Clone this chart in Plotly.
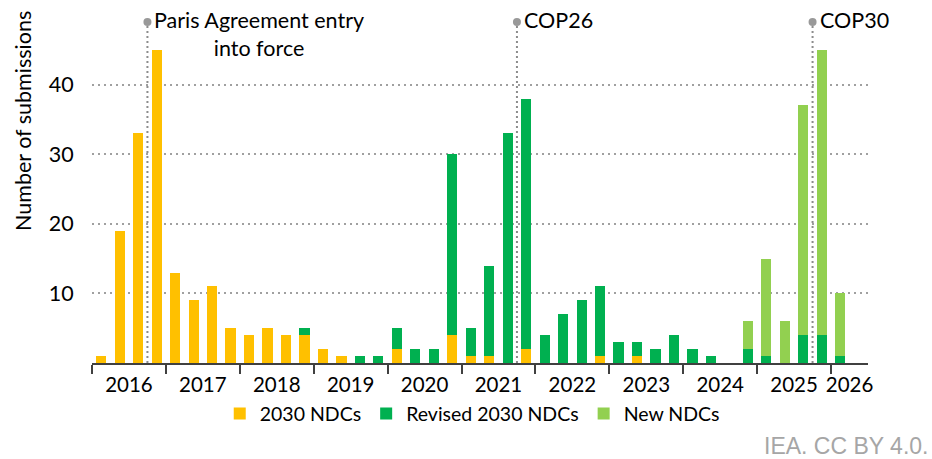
import plotly.graph_objects as go

years = [str(y) for y in range(2016, 2027)]
quarters = ["Q1", "Q2", "Q3", "Q4"]
periods = [f"{y} {q}" for y in years for q in quarters][:42]  # up to 2026 Q2

ndc_2030 = [1, 19, 33, 45,
            13, 9, 11, 5,
            4, 5, 4, 4,
            2, 1, 0, 0,
            2, 0, 0, 4,
            1, 1, 0, 2,
            0, 0, 0, 1,
            0, 1, 0, 0,
            0, 0, 0, 0,
            0, 0, 0, 0,
            0, 0]
revised_2030 = [0, 0, 0, 0,
                0, 0, 0, 0,
                0, 0, 0, 1,
                0, 0, 1, 1,
                3, 2, 2, 26,
                4, 13, 33, 36,
                4, 7, 9, 10,
                3, 2, 2, 4,
                2, 1, 0, 2,
                1, 0, 4, 4,
                1, 0]
new_ndcs = [0, 0, 0, 0,
            0, 0, 0, 0,
            0, 0, 0, 0,
            0, 0, 0, 0,
            0, 0, 0, 0,
            0, 0, 0, 0,
            0, 0, 0, 0,
            0, 0, 0, 0,
            0, 0, 0, 4,
            14, 6, 33, 41,
            9, 0]

# events: label, first period after the event line
event_labels = ["Paris Agreement entry<br>into force", "COP26", "COP30"]
event_after = ["2016 Q4", "2021 Q4", "2025 Q4"]
event_top = 49

series_names = ["2030 NDCs", "Revised 2030 NDCs", "New NDCs"]
colors = ["#FFC000", "#00B050", "#92D050"]
y_title = "Number of submissions"
source = "IEA. CC BY 4.0."

FONT = "Lato, 'Open Sans', sans-serif"
FS = 21.5
xs = list(range(len(periods)))

fig = go.Figure()
for name, vals, col in zip(series_names, [ndc_2030, revised_2030, new_ndcs], colors):
    fig.add_trace(go.Bar(x=xs, y=vals, name=name, marker=dict(color=col, line=dict(width=0)),
                         hovertext=periods))

# event lines
for lab, after in zip(event_labels, event_after):
    ex = periods.index(after) - 0.5
    fig.add_trace(go.Scatter(x=[ex, ex], y=[0, event_top], mode="lines",
                             line=dict(color="#8C8C8C", width=2, dash="2px,3px"),
                             showlegend=False, hoverinfo="skip"))
    fig.add_trace(go.Scatter(x=[ex], y=[event_top], mode="markers",
                             marker=dict(color="#999999", size=8),
                             showlegend=False, hoverinfo="skip"))
    fig.add_annotation(x=ex, y=event_top, xref="x", yref="y", text=lab, showarrow=False,
                       xanchor="left", yanchor="top", align="center", xshift=5, yshift=17,
                       font=dict(family=FONT, size=FS, color="#000000"))

# invisible trace on xaxis2 to carry year labels
year_centers = [4 * i + 1.5 for i in range(len(years) - 1)] + [40.5]
fig.add_trace(go.Scatter(x=year_centers, y=[0] * len(years), xaxis="x2", mode="markers",
                         marker=dict(opacity=0), showlegend=False, hoverinfo="skip"))

year_bounds = [4 * i - 0.5 for i in range(len(years))]

fig.update_layout(
    width=932, height=459,
    margin=dict(l=92, r=64, t=15, b=96),
    barmode="stack", bargap=0.45,
    plot_bgcolor="white", paper_bgcolor="white",
    font=dict(family=FONT, size=FS, color="#000000"),
    xaxis=dict(range=[-0.5, 41.5], tickmode="array", tickvals=year_bounds,
               ticktext=[""] * len(year_bounds), ticks="outside", ticklen=9, tickwidth=1.5,
               tickcolor="#404040", showline=True, linecolor="#404040", linewidth=1.5,
               showgrid=False, zeroline=False),
    xaxis2=dict(range=[-0.5, 41.5], overlaying="x", anchor="y", side="bottom",
                tickmode="array", tickvals=year_centers, ticktext=years,
                ticks="outside", ticklen=3, tickcolor="rgba(0,0,0,0)",
                showline=False, showgrid=False, zeroline=False,
                tickfont=dict(family=FONT, size=20.5, color="#000000")),
    yaxis=dict(range=[0, 50], tickmode="array", tickvals=[10, 20, 30, 40],
               showgrid=True, gridcolor="#A0A0A0", gridwidth=2, griddash="2px,4px",
               zeroline=False, showline=False, ticks="outside", ticklen=13,
               tickcolor="rgba(0,0,0,0)", automargin=False,
               tickfont=dict(family=FONT, size=FS)),
    legend=dict(orientation="h", x=0.49, xanchor="center", y=-0.09, yanchor="top",
                font=dict(family=FONT, size=19.5), itemwidth=30, traceorder="normal"),
    showlegend=True,
)

fig.add_annotation(text=y_title, xref="paper", yref="paper", x=0, y=1, textangle=-90,
                   xanchor="center", yanchor="top", xshift=-69, yshift=6, showarrow=False,
                   font=dict(family=FONT, size=FS, color="#000000"))

fig.add_annotation(text=source, xref="paper", yref="paper", x=1.0, y=0,
                   xanchor="right", yanchor="middle", xshift=62, yshift=-83, showarrow=False,
                   font=dict(family="Liberation Sans, Arial, sans-serif", size=23, color="#A6A6A6"))

fig.write_html("out.html", config={"displayModeBar": False},
               post_script="document.body.style.margin='0';document.body.style.padding='0';")
